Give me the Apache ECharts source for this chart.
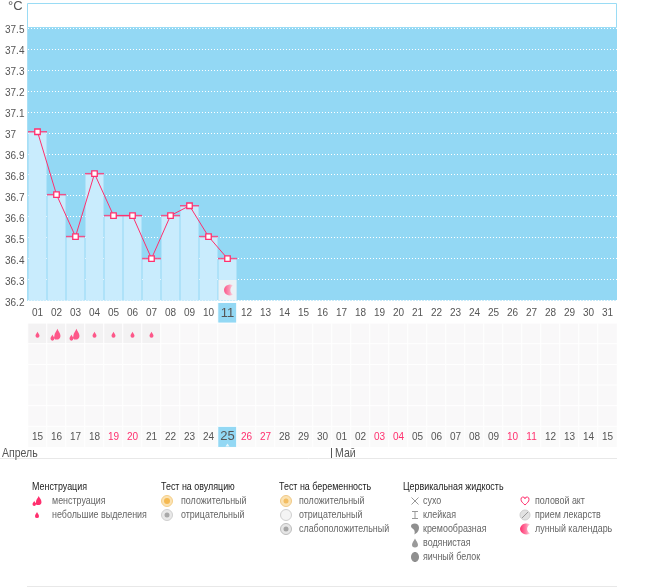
<!DOCTYPE html>
<html>
<head>
<meta charset="utf-8">
<style>
html, body { margin: 0; padding: 0; background: #fff; }
#chart { width: 655px; height: 587px; }
</style>
<script src="https://cdn.jsdelivr.net/npm/echarts@6/dist/echarts.min.js"></script>
</head>
<body>
<div id="chart"></div>
<script>
// data
var days = ['01','02','03','04','05','06','07','08','09','10','11','12','13','14','15','16','17','18','19','20','21','22','23','24','25','26','27','28','29','30','31'];
var cycleDates = ['15','16','17','18','19','20','21','22','23','24','25','26','27','28','29','30','01','02','03','04','05','06','07','08','09','10','11','12','13','14','15'];
var temperature = [37.005, 36.705, 36.505, 36.805, 36.605, 36.605, 36.4, 36.605, 36.652, 36.505, 36.4];
var lightFlowDays = ['01','04','05','06','07'];
var heavyFlowDays = ['02','03'];
var redDates = ['19','20','26','27','03','04','10','11'];
var moonDays = ['11'];
var moonLevel = [36.25];
var currentDay = 10;
var rows = ['top','flow','r2','r3','r4','r5','dates'];
var months = ['Апрель','Май'];

var headMenses = 'Менструация';
var headOvulation = 'Тест на овуляцию';
var headPregnancy = 'Тест на беременность';
var headFluid = 'Цервикальная жидкость';
var itemsMenses = ['менструация','небольшие выделения'];
var itemsOvulation = ['положительный','отрицательный'];
var itemsPregnancy = ['положительный','отрицательный','слабоположительный'];
var itemsFluid = ['сухо','клейкая','кремообразная','водянистая','яичный белок'];
var itemsOther = ['половой акт','прием лекарств','лунный календарь'];

var SKY = '#93d8f4', PALE = '#c9ecfd', PINK = '#ff2f6e', FONT = '"Liberation Sans", Arial, sans-serif';

var DROP = 'M5 0C6 3 9 6 9 9A4 4 0 0 1 1 9C1 6 4 3 5 0Z';
var FLOOD = 'M9 0C10 3 13 5 13 9A4 4 0 0 1 10 13L6 13A3 3 0 0 1 5 9C5 5 8 3 9 0ZM2.500 7C3 9 5 10 5 12A2.500 2.500 0 0 1 0 12C0 10 2 9 2.500 7Z';
var MOON = 'M8.500 .9A5.500 5.500 0 1 0 8.500 10.100A5.500 5.500 0 0 1 8.500 .9Z';
var HEART = 'M5 9C2 6.500 0 5 0 3A2.500 2.500 0 0 1 5 2A2.500 2.500 0 0 1 10 3C10 5 8 6.500 5 9Z';
var CREAM = 'M1 1C4 -1 9 0 9 4C9 8 6 10 4 11C5 8 4 6 2 5C0 4 0 2 1 1Z';
var moonFill = new echarts.graphic.LinearGradient(0, 0, 1, 0, [
    {offset: 0, color: '#ff2f6e'}, {offset: 0.6, color: '#ff7fa5'}, {offset: 1, color: '#fbdce6'}
]);

function flowCells() {
    var cells = [];
    var withFlow = lightFlowDays.concat(heavyFlowDays);
    rows.forEach(function (row, r) {
        days.forEach(function (day, i) {
            var color = '#f9f8f9', label = null;
            if (r === 1 && withFlow.indexOf(day) >= 0) {
                color = '#f3f2f3';
            }
            if (r === 0) {
                color = i === currentDay ? SKY : '#fff';
                label = day;
            }
            if (r === 6) {
                color = i === currentDay ? SKY : '#fafafa';
                label = cycleDates[i];
            }
            var item = {value: [i, r, 0], itemStyle: {color: color}};
            if (label) {
                item.label = {
                    show: true,
                    formatter: label,
                    fontFamily: FONT,
                    fontSize: i === currentDay ? 13 : 10,
                    color: r === 6 && redDates.indexOf(label) >= 0 ? PINK : '#555'
                };
            }
            cells.push(item);
        });
    });
    return cells;
}

// narrow text: no narrow face installed, so squeeze the regular one
function squeezed(text, x, y, size, fill) {
    return {
        type: 'text', x: x, y: y, scaleX: 0.81,
        style: {text: text, x: 0, y: 0, fill: fill, font: size + 'px ' + FONT, verticalAlign: 'middle'}
    };
}

// legend is drawn by hand, one column at a time
function legendIcon(name, x, y) {
    function path(d, w, h, style) {
        return {type: 'path', shape: {pathData: d, layout: 'cover', x: x - w / 2, y: y - h / 2, width: w, height: h}, style: style};
    }
    function ring(r, fill, stroke) {
        return {type: 'circle', shape: {cx: x, cy: y, r: r}, style: {fill: fill, stroke: stroke || null, lineWidth: 1}};
    }
    function line(x1, y1, x2, y2) {
        return {type: 'line', shape: {x1: x + x1, y1: y + y1, x2: x + x2, y2: y + y2}, style: {stroke: '#999', lineWidth: 1}};
    }
    switch (name) {
        case 'flood': return [path(FLOOD, 9, 10, {fill: PINK})];
        case 'drop': return [path(DROP, 4, 6, {fill: PINK})];
        case 'ovuPos': return [ring(5.5, '#fbe3b4', '#f6cf88'), ring(3, '#f5b951')];
        case 'ovuNeg': return [ring(5.5, '#e9e9e9', '#d0d0d0'), ring(2.5, '#a9a9a9')];
        case 'pregPos': return [ring(5.5, '#fbe3b4', '#f0c987'), ring(2.5, '#f3bd62')];
        case 'pregNeg': return [ring(5.5, '#f4f4f4', '#cfcfcf')];
        case 'pregWeak': return [ring(5.5, '#e6e6e6', '#bdbdbd'), ring(2.5, '#a5a5a5')];
        case 'dry': return [line(-3.5, -3.5, 3.5, 3.5), line(-3.5, 3.5, 3.5, -3.5)];
        case 'sticky': return [line(-3, -3.500, 3, -3.500), line(0, -3.500, 0, 3.500), line(-3, 3.500, 3, 3.500)];
        case 'cream': return [path(CREAM, 8, 11, {fill: '#8f8f8f'})];
        case 'water': return [path(DROP, 6, 9, {fill: '#9a9a9a'})];
        case 'egg': return [{type: 'ellipse', shape: {cx: x, cy: y, rx: 4, ry: 5}, style: {fill: '#8f8f8f'}}];
        case 'heart': return [path(HEART, 8, 8, {fill: '#fff', stroke: PINK, lineWidth: 1})];
        case 'pill': return [ring(5, '#e2e2e2', '#cfcfcf'), line(-3, 3, 3, -3)];
        case 'moon': return [path(MOON, 10, 11, {fill: moonFill})];
    }
    return [];
}

function legendColumn(head, headX, items, icons, iconX, textX) {
    var out = [];
    if (head) {
        out.push(squeezed(head, headX, 487, 11, '#222'));
    }
    items.forEach(function (txt, i) {
        var y = 501 + i * 14;
        out = out.concat(legendIcon(icons[i], iconX, y));
        out.push(squeezed(txt, textX, y, 11, '#666'));
    });
    return out;
}

function pageDecor() {
    var out = [
        {type: 'rect', shape: {x: 27.5, y: 3.5, width: 589, height: 24}, style: {fill: '#fff', stroke: '#9adcf5', lineWidth: 1}},
        {type: 'line', shape: {x1: 0, y1: 458.5, x2: 617, y2: 458.5}, style: {stroke: '#e8e8e8', lineWidth: 1}},
        {type: 'line', shape: {x1: 27, y1: 586.5, x2: 617, y2: 586.5}, style: {stroke: '#e8e8e8', lineWidth: 1}},
        {type: 'line', shape: {x1: 331.5, y1: 429, x2: 331.5, y2: 458}, style: {stroke: '#555', lineWidth: 1}},
        {type: 'line', shape: {x1: 27.5, y1: 27, x2: 27.5, y2: 301}, style: {stroke: '#a8dff5', lineWidth: 1}},
        squeezed(months[0], 2, 453, 13, '#555'),
        squeezed(months[1], 335, 453, 13, '#555')
    ];
    out = out.concat(legendColumn(headMenses, 32, itemsMenses, ['flood','drop'], 37, 52));
    out = out.concat(legendColumn(headOvulation, 161, itemsOvulation, ['ovuPos','ovuNeg'], 167, 181));
    out = out.concat(legendColumn(headPregnancy, 279, itemsPregnancy, ['pregPos','pregNeg','pregWeak'], 286, 299));
    out = out.concat(legendColumn(headFluid, 403, itemsFluid, ['dry','sticky','cream','water','egg'], 415, 423));
    out = out.concat(legendColumn(null, 0, itemsOther, ['heart','pill','moon'], 525, 535));
    return out;
}

var chart = echarts.init(document.getElementById('chart'), null, {renderer: 'canvas'});

var option = {
    animation: false,
    backgroundColor: '#fff',
    grid: [
        {left: 28, top: 27.5, width: 589, height: 273, show: true, backgroundColor: SKY, borderWidth: 0, z: 0},
        {left: 28, top: 302.7, width: 589, height: 144.500, show: false}
    ],
    xAxis: [
        {type: 'category', gridIndex: 0, data: days, axisLine: {show: false}, axisTick: {show: false}, axisLabel: {show: false}},
        {type: 'category', gridIndex: 1, data: days, axisLine: {show: false}, axisTick: {show: false}, axisLabel: {show: false}}
    ],
    yAxis: [
        {
            type: 'value', gridIndex: 0, min: 36.2, max: 37.5, interval: 0.1,
            name: '°C', nameLocation: 'end', nameGap: 15,
            nameTextStyle: {color: '#555', fontFamily: FONT, fontSize: 13, align: 'left', padding: [0, 0, 0, -20]},
            axisLine: {show: false},
            axisTick: {show: false},
            axisLabel: {
                color: '#555', fontFamily: FONT, fontSize: 10, align: 'left', margin: 23,
                formatter: function (v) { return '{t|' + (+v.toFixed(1)) + '}'; },
                rich: {t: {color: '#555', fontFamily: FONT, fontSize: 10, padding: [5, 0, 0, 0]}}
            },
            splitLine: {show: true, lineStyle: {color: '#fff', type: [1, 2], width: 1}}
        },
        {type: 'category', gridIndex: 1, data: rows, inverse: true, axisLine: {show: false}, axisTick: {show: false}, axisLabel: {show: false}}
    ],
    series: [
        {
            name: 'temperature bars', type: 'bar', xAxisIndex: 0, yAxisIndex: 0,
            data: temperature, barWidth: 18, itemStyle: {color: PALE}, z: 2
        },
        {
            name: 'caps', type: 'scatter', xAxisIndex: 0, yAxisIndex: 0,
            data: temperature, symbol: 'rect', symbolSize: [19, 1.5], itemStyle: {color: PINK}, z: 3
        },
        {
            name: 'moon cell', type: 'scatter', xAxisIndex: 0, yAxisIndex: 0,
            data: moonDays.map(function (d, i) { return [d, moonLevel[i]]; }),
            symbol: 'rect', symbolSize: [18, 20], itemStyle: {color: '#f4f4f4'}, z: 3
        },
        {
            name: 'moon', type: 'scatter', xAxisIndex: 0, yAxisIndex: 0,
            data: moonDays.map(function (d, i) { return [d, moonLevel[i]]; }),
            symbol: 'path://' + MOON, symbolSize: [9, 11], symbolOffset: [1, 0], itemStyle: {color: moonFill}, z: 4
        },
        {
            name: 'temperature', type: 'line', xAxisIndex: 0, yAxisIndex: 0,
            data: temperature, symbol: 'rect', symbolSize: 5.5, showAllSymbols: true,
            lineStyle: {color: PINK, width: 1},
            itemStyle: {color: '#fff', borderColor: PINK, borderWidth: 1.3}, z: 5
        },
        {
            name: 'cells', type: 'heatmap', xAxisIndex: 1, yAxisIndex: 1,
            data: flowCells(), itemStyle: {borderColor: '#fff', borderWidth: 1}, z: 2
        },
        {
            name: 'current day mark', type: 'scatter', xAxisIndex: 1, yAxisIndex: 1,
            data: [[currentDay, rows.length - 1]], symbol: 'triangle', symbolSize: [4, 3], symbolOffset: [0, 8],
            itemStyle: {color: '#fff'}, z: 4
        },
        {
            name: 'light flow', type: 'scatter', xAxisIndex: 1, yAxisIndex: 1,
            data: lightFlowDays.map(function (d) { return [d, rows[1]]; }),
            symbol: 'path://' + DROP, symbolSize: [4, 6], symbolOffset: [0, 1], itemStyle: {color: PINK}, z: 4
        },
        {
            name: 'heavy flow', type: 'scatter', xAxisIndex: 1, yAxisIndex: 1,
            data: heavyFlowDays.map(function (d) { return [d, rows[1]]; }),
            symbol: 'path://' + FLOOD, symbolSize: [10, 12], symbolOffset: [-1, 1], itemStyle: {color: PINK}, z: 4
        },
        {
            // frame, rules, month names and the key
            name: 'decor', type: 'custom', coordinateSystem: 'none', data: [0], silent: true, z: 1,
            renderItem: function () {
                return {type: 'group', children: pageDecor()};
            }
        }
    ]
};

chart.setOption(option);
</script>
</body>
</html>
